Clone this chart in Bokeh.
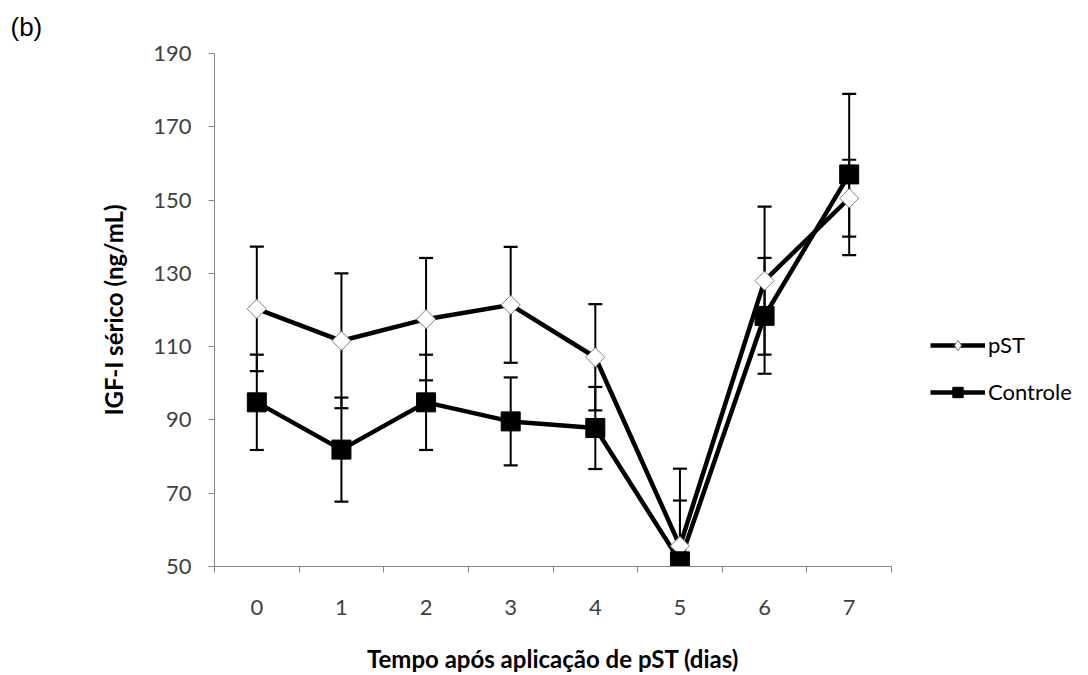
import numpy as np
from bokeh.plotting import figure
from bokeh.layouts import row
from bokeh.models import (Range1d, FixedTicker, Legend, LegendItem,
                          ColumnDataSource)
from bokeh.embed import file_html
from bokeh.resources import INLINE

# ---- data ----
dias = [0, 1, 2, 3, 4, 5, 6, 7]
pst_mean = [120.3, 111.6, 117.5, 121.4, 107.1, 55.6, 128.0, 150.5]
pst_err = [17.0, 18.4, 16.7, 15.8, 14.5, 21.1, 20.2, 10.5]
ctrl_mean = [94.8, 81.9, 94.8, 89.6, 87.8, 51.4, 118.4, 157.0]
ctrl_err = [13.0, 14.2, 13.0, 12.0, 11.2, 16.6, 15.8, 22.0]
y_ticks = [50, 70, 90, 110, 130, 150, 170, 190]
series_names = ["pST", "Controle"]
x_title = "Tempo após aplicação de pST (dias)"
y_title = "IGF-I sérico (ng/mL)"
panel_tag = "(b)"

FONT = "Lato"
AXIS_GRAY = "#868686"

p = figure(width=893, height=675, output_backend="svg", toolbar_location=None,
           x_range=Range1d(-0.5, 7.5), y_range=Range1d(50, 190),
           min_border_left=214, min_border_right=2,
           min_border_top=53, min_border_bottom=108)
p.outline_line_color = None
p.xgrid.visible = False
p.ygrid.visible = False
p.background_fill_color = "white"
p.border_fill_color = "white"

# panel tag as title
p.title.text = panel_tag
p.title.text_font = "Liberation Sans"
p.title.text_font_size = "26px"
p.title.text_font_style = "normal"
p.title.text_color = "black"
p.title.align = "left"
p.title.vertical_align = "top"
p.title.offset = -204
p.title.standoff = 20

# axes
xa = p.xaxis[0]
xa.ticker = FixedTicker(ticks=dias, minor_ticks=[d - 0.5 for d in dias] + [dias[-1] + 0.5])
xa.major_tick_out = 0
xa.major_tick_in = 0
xa.minor_tick_out = 6
xa.minor_tick_in = 0
xa.minor_tick_line_color = AXIS_GRAY
xa.axis_line_color = AXIS_GRAY
xa.major_label_text_font = FONT
xa.major_label_text_font_size = "22px"
xa.major_label_text_color = "#404040"
xa.major_label_standoff = 27
xa.axis_label = x_title
xa.axis_label_text_font = FONT
xa.axis_label_text_font_style = "bold"
xa.axis_label_text_font_size = "24px"
xa.axis_label_text_color = "black"
xa.axis_label_standoff = 26

ya = p.yaxis[0]
ya.ticker = FixedTicker(ticks=y_ticks, minor_ticks=[])
ya.major_tick_out = 6
ya.major_tick_in = 0
ya.major_tick_line_color = AXIS_GRAY
ya.axis_line_color = AXIS_GRAY
ya.major_label_text_font = FONT
ya.major_label_text_font_size = "22px"
ya.major_label_text_color = "#404040"
ya.major_label_standoff = 17
ya.axis_label = y_title
ya.axis_label_text_font = FONT
ya.axis_label_text_font_style = "bold"
ya.axis_label_text_font_size = "24px"
ya.axis_label_text_color = "black"
ya.axis_label_standoff = 22

x = np.array(dias, dtype=float)

# error bars
for mean, err in [(pst_mean, pst_err), (ctrl_mean, ctrl_err)]:
    m = np.array(mean)
    e = np.array(err)
    src = ColumnDataSource(dict(x=x, lo=m - e, hi=m + e))
    p.segment(x0="x", y0="lo", x1="x", y1="hi", source=src, line_color="black", line_width=2)
    p.scatter(x="x", y="lo", source=src, marker="dash", size=14, line_color="black", line_width=2.2)
    p.scatter(x="x", y="hi", source=src, marker="dash", size=14, line_color="black", line_width=2.2)

# series lines and markers
p.line(x, pst_mean, line_color="black", line_width=4.5)
p.line(x, ctrl_mean, line_color="black", line_width=4.5)
p.scatter(x, pst_mean, marker="square", angle=np.pi / 4, size=13.5,
          fill_color="white", line_color="#7f7f7f", line_width=1)
p.scatter(x, ctrl_mean, marker="square", size=19,
          fill_color="black", line_color="black", line_width=1)

# ---- legend panel (separate figure to the right of the plot) ----
# The series are repeated here only as legend proxies; they fall outside
# this panel's ranges, so only the legend entries are visible.
lg = figure(width=195, height=675, output_backend="svg", toolbar_location=None,
            x_axis_location=None, y_axis_location=None,
            x_range=Range1d(100, 101), y_range=Range1d(1000, 1001),
            min_border_left=0, min_border_right=0, min_border_top=0, min_border_bottom=0)
lg.outline_line_color = None
lg.xgrid.visible = False
lg.ygrid.visible = False
lg.border_fill_color = "white"
lg.background_fill_color = "white"

lg_l1 = lg.line(x, pst_mean, line_color="black", line_width=4.5)
lg_m1 = lg.scatter(x, pst_mean, marker="diamond", size=19,
                   fill_color="white", line_color="#7f7f7f", line_width=1)
lg_l2 = lg.line(x, ctrl_mean, line_color="black", line_width=4.5)
lg_m2 = lg.scatter(x, ctrl_mean, marker="square", size=16,
                   fill_color="black", line_color="black", line_width=1)

legend = Legend(items=[LegendItem(label=series_names[0], renderers=[lg_l1, lg_m1]),
                       LegendItem(label=series_names[1], renderers=[lg_l2, lg_m2])],
                location=(37, 161), orientation="vertical",
                glyph_width=55, glyph_height=26, label_height=26, label_standoff=3,
                spacing=20, padding=0, margin=0,
                border_line_color=None, background_fill_alpha=0,
                label_text_font=FONT, label_text_font_size="22px",
                label_text_color="black", label_text_baseline="middle")
lg.add_layout(legend, "center")

layout = row(p, lg, spacing=0)
open("out.html", "w").write(file_html(layout, INLINE))
